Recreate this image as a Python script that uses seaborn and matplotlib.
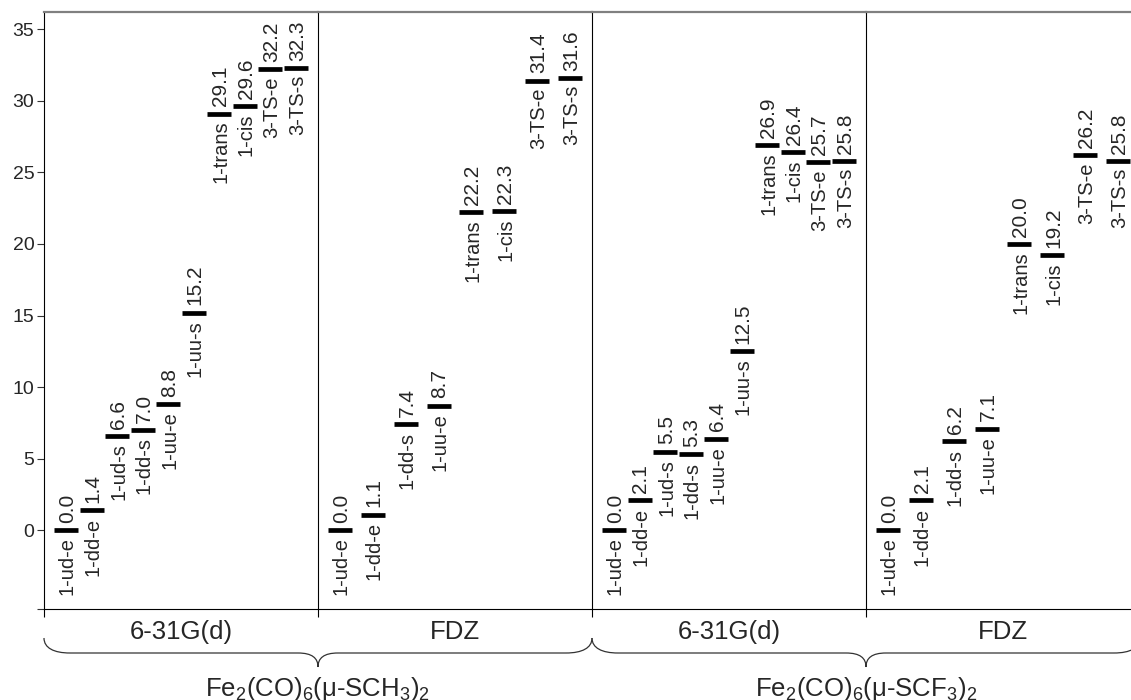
import numpy as np
import pandas as pd
import matplotlib
matplotlib.use("Agg")
import matplotlib.pyplot as plt
import seaborn as sns
from matplotlib.path import Path
from matplotlib.patches import PathPatch

# relative energies (kcal/mol)
states_long = ["1-ud-e", "1-dd-e", "1-ud-s", "1-dd-s", "1-uu-e", "1-uu-s",
               "1-trans", "1-cis", "3-TS-e", "3-TS-s"]
states_short = ["1-ud-e", "1-dd-e", "1-dd-s", "1-uu-e",
                "1-trans", "1-cis", "3-TS-e", "3-TS-s"]

sch3_631g = [0.0, 1.4, 6.6, 7.0, 8.8, 15.2, 29.1, 29.6, 32.2, 32.3]
sch3_fdz = [0.0, 1.1, 7.4, 8.7, 22.2, 22.3, 31.4, 31.6]
scf3_631g = [0.0, 2.1, 5.5, 5.3, 6.4, 12.5, 26.9, 26.4, 25.7, 25.8]
scf3_fdz = [0.0, 2.1, 6.2, 7.1, 20.0, 19.2, 26.2, 25.8]

basis_labels = ["6-31G(d)", "FDZ", "6-31G(d)", "FDZ"]
compounds = [r"Fe$_2$(CO)$_6$(μ-SCH$_3$)$_2$", r"Fe$_2$(CO)$_6$(μ-SCF$_3$)$_2$"]
yticks = [0, 5, 10, 15, 20, 25, 30, 35]

panels = [
    (states_long, sch3_631g),
    (states_short, sch3_fdz),
    (states_long, scf3_631g),
    (states_short, scf3_fdz),
]

sns.set_style("white")
plt.rcParams["font.family"] = ["Liberation Sans", "DejaVu Sans"]
plt.rcParams["mathtext.fontset"] = "custom"
plt.rcParams["mathtext.rm"] = "Liberation Sans"
plt.rcParams["mathtext.it"] = "Liberation Sans"

W, H = 1131, 700
fig = plt.figure(figsize=(W / 100, H / 100), dpi=100)

left_px, panel_px = 44, 274
top_px, bot_px = 12, 609
ymin, ymax = -5.5, 36.2
margin_px = 22

def fx(x):
    return x / W

def fy(y):
    return 1 - y / H

axes = []
for p, (names, vals) in enumerate(panels):
    ax = fig.add_axes([fx(left_px + p * panel_px), fy(bot_px),
                       panel_px / W, (bot_px - top_px) / H])
    n = len(names)
    step = (panel_px - 2 * margin_px) / (n - 1)
    m = margin_px / step
    df = pd.DataFrame({"pos": np.arange(n), "energy": vals, "state": names})

    sns.scatterplot(data=df, x="pos", y="energy", marker="_", s=290,
                    linewidth=3.4, color="black", ax=ax, legend=False)

    for _, row in df.iterrows():
        ax.annotate(row["state"], (row["pos"], row["energy"]),
                    xytext=(1, -5.2), textcoords="offset points",
                    rotation=90, ha="center", va="top", fontsize=14.5)
        ax.annotate(f"{row['energy']:.1f}", (row["pos"], row["energy"]),
                    xytext=(1, 5.2), textcoords="offset points",
                    rotation=90, ha="center", va="bottom", fontsize=15)

    ax.set_xlim(-m, n - 1 + m)
    ax.set_ylim(ymin, ymax)
    ax.set_xlabel("")
    ax.set_ylabel("")
    ax.set_xticks([-m])
    ax.set_xticklabels([""])
    ax.tick_params(axis="x", direction="out", length=6, width=0.8,
                   bottom=True, color="black")
    if p == 0:
        ax.set_yticks([ymin] + yticks)
        ax.set_yticklabels([""] + [str(t) for t in yticks], fontsize=14)
        ax.tick_params(axis="y", direction="out", length=5, width=0.8,
                       left=True, color="#333333", pad=2)
    else:
        ax.set_yticks([])
    for side in ["left", "bottom"]:
        ax.spines[side].set_visible(True)
        ax.spines[side].set_color("black")
        ax.spines[side].set_linewidth(0.8)
    ax.spines["top"].set_color("#808080")
    ax.spines["top"].set_linewidth(1.6)
    ax.spines["right"].set_visible(False)
    ax.patch.set_alpha(0)
    axes.append(ax)

    fig.text(fx(left_px + (p + 0.5) * panel_px), fy(632), basis_labels[p],
             ha="center", va="center", fontsize=18.5)


def brace(x0, x1):
    mid = (x0 + x1) / 2
    ytop, yh, ytip = 638, 653, 667
    pts = [
        (x0, ytop), (x0, yh - 5), (x0 + 10, yh), (x0 + 26, yh),
        (mid - 20, yh),
        (mid - 6, yh), (mid, yh + 5), (mid, ytip),
        (mid, yh + 5), (mid + 6, yh), (mid + 20, yh),
        (x1 - 26, yh),
        (x1 - 10, yh), (x1, yh - 5), (x1, ytop),
    ]
    codes = [Path.MOVETO, Path.CURVE4, Path.CURVE4, Path.CURVE4,
             Path.LINETO,
             Path.CURVE4, Path.CURVE4, Path.CURVE4,
             Path.CURVE4, Path.CURVE4, Path.CURVE4,
             Path.LINETO,
             Path.CURVE4, Path.CURVE4, Path.CURVE4]
    path = Path([(fx(a), fy(b)) for a, b in pts], codes)
    fig.patches.append(PathPatch(path, transform=fig.transFigure,
                                 facecolor="none", edgecolor="#333333",
                                 lw=0.9))


for k, name in enumerate(compounds):
    x0 = left_px + 2 * k * panel_px
    x1 = x0 + 2 * panel_px
    brace(x0, x1)
    fig.text(fx((x0 + x1) / 2), fy(689), name, ha="center", va="center",
             fontsize=18.5)

fig.savefig("out.png", dpi=100)
